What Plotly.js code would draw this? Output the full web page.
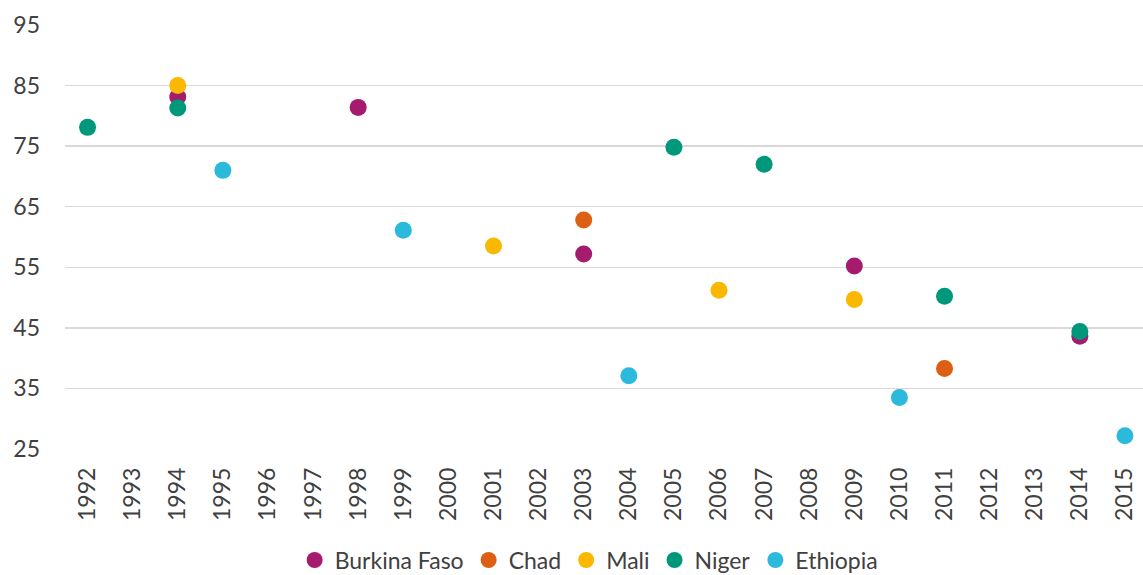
<!DOCTYPE html>
<html>
<head>
<meta charset="utf-8">
<script src="https://cdn.plot.ly/plotly-3.0.1.min.js"></script>
<style>html,body{margin:0;padding:0;background:#fff;}#chart{width:1143px;height:575px;}</style>
</head>
<body>
<div id="chart"></div>
<script>
const years = ["1992","1993","1994","1995","1996","1997","1998","1999","2000","2001","2002","2003","2004","2005","2006","2007","2008","2009","2010","2011","2012","2013","2014","2015"];

const burkinaYears = ["1994","1998","2003","2009","2014"];
const burkinaValues = [83.1, 81.4, 57.2, 55.2, 43.6];

const chadYears = ["2003","2011"];
const chadValues = [62.8, 38.3];

const maliYears = ["1994","2001","2006","2009"];
const maliValues = [85.0, 58.5, 51.2, 49.7];

const nigerYears = ["1992","1994","2005","2007","2011","2014"];
const nigerValues = [78.1, 81.3, 74.8, 72.0, 50.2, 44.4];

const ethiopiaYears = ["1995","1999","2004","2010","2015"];
const ethiopiaValues = [71.0, 61.1, 37.1, 33.5, 27.2];

const yTicks = [25,35,45,55,65,75,85,95];

const series = [
  {name:"Burkina Faso", x:burkinaYears, y:burkinaValues, color:"#A51C6E"},
  {name:"Chad", x:chadYears, y:chadValues, color:"#DD5F13"},
  {name:"Mali", x:maliYears, y:maliValues, color:"#FBB800"},
  {name:"Niger", x:nigerYears, y:nigerValues, color:"#00987A"},
  {name:"Ethiopia", x:ethiopiaYears, y:ethiopiaValues, color:"#2BBADB"}
];

const traces = series.map(s => ({
  type:"scatter", mode:"markers", name:s.name, x:s.x, y:s.y,
  marker:{color:s.color, size:17, line:{width:0}}
}));

const font = {family:"Lato, 'Open Sans', sans-serif", size:23, color:"#404040"};

const layout = {
  width:1143, height:575,
  margin:{l:65, r:0, t:25, b:126},
  paper_bgcolor:"#fff", plot_bgcolor:"#fff",
  font:font,
  showlegend:true,
  legend:{orientation:"h", x:0.515, xanchor:"center", xref:"container", yref:"container", y:0.026, yanchor:"middle",
    font:font, itemwidth:20, tracegroupgap:0},
  xaxis:{type:"category", categoryorder:"array", categoryarray:years, range:[-0.5, 23.4],
    showgrid:false, zeroline:false, showline:false, ticks:"", tickangle:-90, tickfont:font, automargin:false, ticklabelstandoff:13},
  yaxis:{range:[25,95], tickvals:yTicks, showgrid:true, gridcolor:"#d9d9d9", gridwidth:1.5,
    zeroline:false, showline:false, ticks:"", tickfont:font, automargin:false, ticklabelstandoff:24}
};

Plotly.newPlot("chart", traces, layout, {displayModeBar:false, staticPlot:true});
</script>
</body>
</html>
